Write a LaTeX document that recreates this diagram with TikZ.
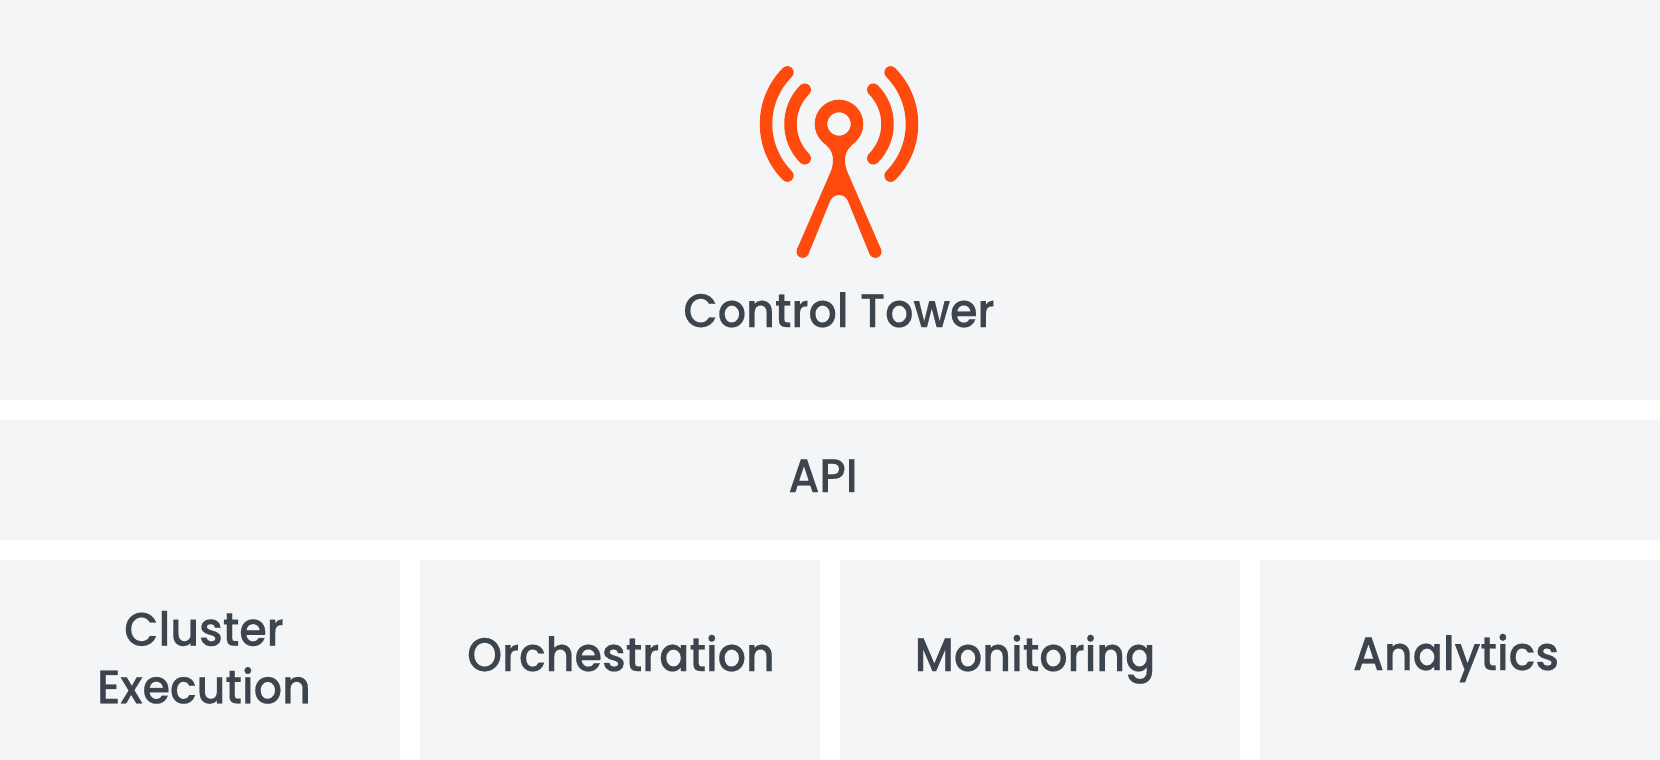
\documentclass[tikz,border=0pt]{standalone}
\usepackage{fontspec}
\setmainfont{Poppins Medium}[FakeStretch=0.945,FakeBold=0.4]
\definecolor{panelgray}{HTML}{F4F5F7}
\definecolor{labelgray}{HTML}{3C444E}
\definecolor{towerorange}{HTML}{FF4A0E}
\tikzset{
	panel/.style={fill=panelgray},
	label/.style={text=labelgray, anchor=base, align=center, inner sep=0pt, font=\fontsize{47}{57.6}\selectfont},
	towerline/.style={draw=towerorange, line width=12.5pt, line cap=round},
}

\begin{document}
\begin{tikzpicture}[x=1pt, y=-1pt]
		%%%%% START %%%%%
		
		\useasboundingbox (0, 0) rectangle (1660, 760);
		
		\fill[panel] (0, 0) rectangle (1660, 400);
		\fill[panel] (0, 420) rectangle (1660, 540);
		\fill[panel] (0, 560) rectangle (400, 760);
		\fill[panel] (420, 560) rectangle (820, 760);
		\fill[panel] (840, 560) rectangle (1240, 760);
		\fill[panel] (1260, 560) rectangle (1660, 760);
		
		\draw[towerline, line cap=butt] (839, 124) circle (18);
		
		\draw[towerline] (787.4, 175.6) arc (135:225:73);
		\draw[towerline] (804.7, 158.3) arc (135:225:48.5);
		\draw[towerline] (873.3, 89.7) arc (-45:45:48.5);
		\draw[towerline] (890.6, 72.4) arc (-45:45:73);
		
		\fill[towerorange] (802.7, 251.7) circle (6.2);
		\fill[towerorange] (875.3, 251.7) circle (6.2);
		\fill[towerorange] (822, 141) .. controls (827, 146) and (833, 150) .. (833, 160)
			.. controls (833, 167) and (831, 171) .. (829.3, 175) -- (797, 249.2) -- (808.4, 254.2)
			-- (830.1, 200.9) .. controls (831.6, 197.3) and (835.1, 195) .. (839, 195)
			.. controls (842.9, 195) and (846.4, 197.3) .. (847.9, 200.9) -- (869.6, 254.2) -- (881, 249.2)
			-- (848.7, 175) .. controls (847, 171) and (845, 167) .. (845, 160)
			.. controls (845, 150) and (851, 146) .. (856, 141) -- cycle;
		
		\node[label] (tower) at (839, 327) {Control Tower};
		\node[label] (api) at (823, 492) {API};
		\node[label] (cluster) at (204, 703.3) {Cluster\\Execution};
		\node[label] (orchestration) at (621, 671) {Orchestration};
		\node[label] (monitoring) at (1035, 671) {Monitoring};
		\node[label] (analytics) at (1456, 670) {Analytics};
		
		%%%%% END %%%%%
	\end{tikzpicture}
\end{document}
